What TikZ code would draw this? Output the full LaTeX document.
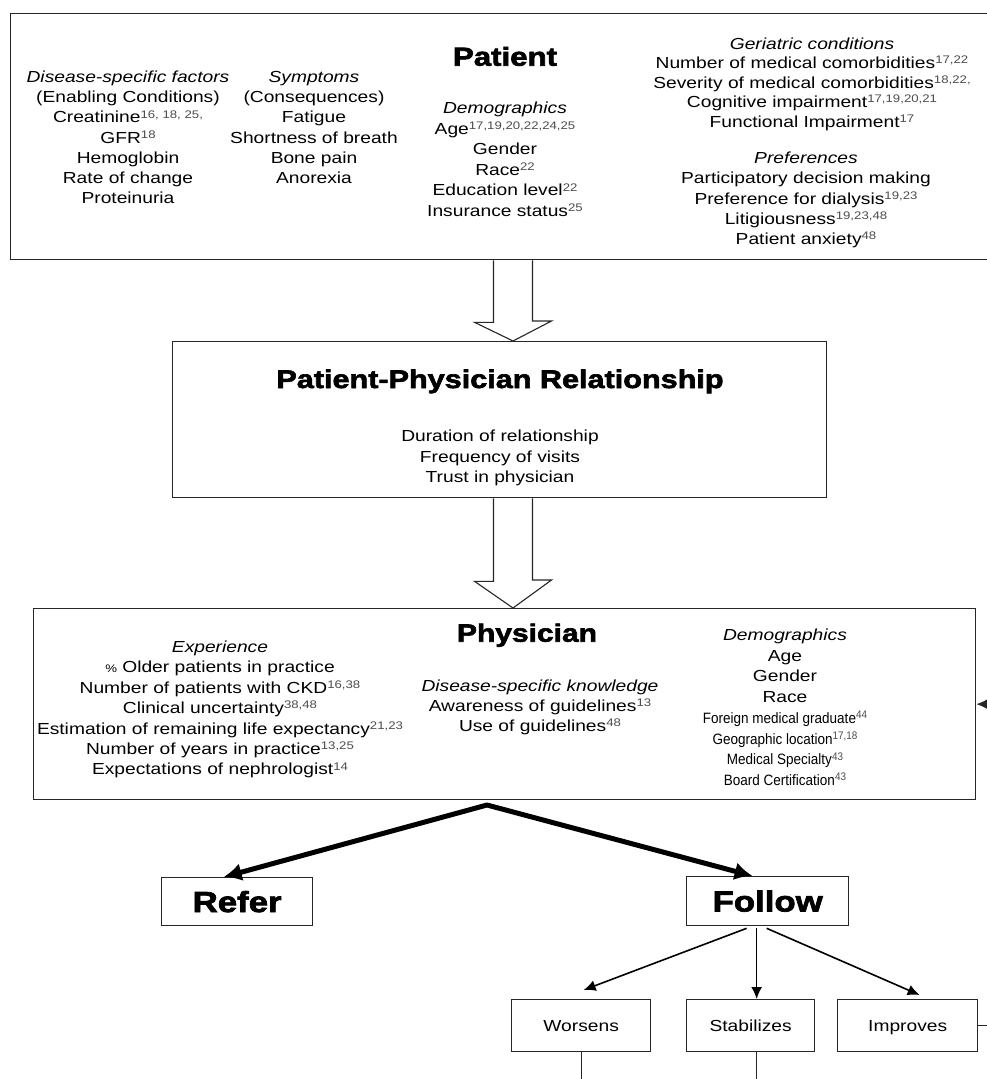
\documentclass[tikz,border=0pt]{standalone}
\usepackage{fontspec}
\setmainfont{Liberation Sans}[FakeStretch=1.2]
\newfontfamily\narrowf{Liberation Sans}[FakeStretch=0.9]
\newfontfamily\heavyf{Liberation Sans Bold}[FakeStretch=1.2,FakeBold=2.5]
\usetikzlibrary{arrows.meta,calc}
\definecolor{supgray}{gray}{0.3}
\newcommand\sps[1]{\raisebox{0.3em}{\fontsize{11}{11}\selectfont\color{supgray}#1}}
\newcommand\bodyfs{\fontsize{16}{20}\selectfont}
\newcommand\nar{\narrowf\fontsize{15}{16}\selectfont}
\newcommand\pct{{\fontsize{11}{11}\selectfont\%}}
\newcommand\tcol[6]{\foreach [count=\i from 0] \t in {#6} {\node[inner sep=0, anchor=base, font=#5] (#1-\i) at (#2, #3+5.5+\i*#4) {\t};}}
\begin{document}
\begin{tikzpicture}[x=1pt,y=-1pt,
  box/.style={draw=black!85, line width=1.3pt, inner sep=0, anchor=north west},
  smallbox/.style={box, font=\bodyfs, text height=11.5pt, text depth=0pt},
  ttl/.style={inner sep=0, anchor=base},
  hollowarr/.style={draw=black!85, line width=1.1pt, line join=miter},
  bigarr/.style={line width=5pt, line join=round, {Latex[length=18pt,width=18pt]}-{Latex[length=18pt,width=18pt]}},
  thinarr/.style={line width=1.6pt, -{Latex[length=12pt,width=11pt]}},
  plain/.style={draw=black!85, line width=1.3pt}]
\useasboundingbox (0,0) rectangle (986,1079);

% boxes
\node[box, minimum width=985pt, minimum height=246pt] (patbox) at (10,13) {};
\node[box, minimum width=654pt, minimum height=156pt] (relbox) at (172,341) {};
\node[box, minimum width=942pt, minimum height=191pt] (physbox) at (33,608) {};
\node[box, minimum width=151pt, minimum height=48pt, font=\heavyf\fontsize{29}{29}\selectfont] (refer) at (161,877) {Refer};
\node[box, minimum width=162pt, minimum height=49pt, font=\heavyf\fontsize{29}{29}\selectfont] (follow) at (686,876) {Follow};
\node[smallbox, minimum width=139pt, minimum height=52pt] (worsens) at (511,999) {Worsens};
\node[smallbox, minimum width=128pt, minimum height=52pt] (stab) at (686,999) {Stabilizes};
\node[smallbox, minimum width=140pt, minimum height=52pt] (improves) at (837,999) {Improves};

% titles
\node[ttl, font=\heavyf\fontsize{26}{26}\selectfont] (pattitle) at (505,65.7) {Patient};
\node[ttl, font=\heavyf\fontsize{25.5}{26}\selectfont] (reltitle) at (500,388) {Patient-Physician Relationship};
\node[ttl, font=\heavyf\fontsize{25}{26}\selectfont] (phystitle) at (527,641.7) {Physician};

% patient box texts
\tcol{dis}{128}{77}{20.2}{\bodyfs}{\textit{Disease-specific factors},(Enabling Conditions),Creatinine\sps{16, 18, 25,},GFR\sps{18},Hemoglobin,Rate of change,Proteinuria}
\tcol{sym}{314}{77}{20.2}{\bodyfs}{\textit{Symptoms},(Consequences),Fatigue,Shortness of breath,Bone pain,Anorexia}
\tcol{dem}{505}{108}{20.6}{\bodyfs}{\textit{Demographics},Age\sps{17,19,20,22,24,25},Gender,Race\sps{22},Education level\sps{22},Insurance status\sps{25}}
\tcol{ger}{812}{43.5}{19.5}{\bodyfs}{\textit{Geriatric conditions},Number of medical comorbidities\sps{17,22},Severity of medical comorbidities\sps{18,22,},Cognitive impairment\sps{17,19,20,21},Functional Impairment\sps{17}}
\tcol{pref}{806}{158}{20.3}{\bodyfs}{\textit{Preferences},Participatory decision making,Preference for dialysis\sps{19,23},Litigiousness\sps{19,23,48},Patient anxiety\sps{48}}

% relationship box texts
\tcol{rel}{500}{436}{20.5}{\bodyfs}{Duration of relationship,Frequency of visits,Trust in physician}

% physician box texts
\tcol{exp}{220}{647}{20.4}{\bodyfs}{\textit{Experience},\pct\ Older patients in practice,Number of patients with CKD\sps{16,38},Clinical uncertainty\sps{38,48},Estimation of remaining life expectancy\sps{21,23},Number of years in practice\sps{13,25},Expectations of nephrologist\sps{14}}
\tcol{dsk}{540}{686}{20}{\bodyfs}{\textit{Disease-specific knowledge},Awareness of guidelines\sps{13},Use of guidelines\sps{48}}
\tcol{pdem}{785}{635}{20.7}{\bodyfs}{\textit{Demographics},Age,Gender,Race,\nar Foreign medical graduate\sps{44},\nar Geographic location\sps{17,18},\nar Medical Specialty\sps{43},\nar Board Certification\sps{43}}

% hollow block arrows
\coordinate (ax) at (513,0);
\draw[hollowarr] ($(ax |- patbox.south)+(-19.5,0)$) -- ++(0,62) -- ++(-19,0) -- (ax |- relbox.north) -- ++(38.5,-20) -- ++(-19,0) -- ($(ax |- patbox.south)+(19.5,0)$);
\draw[hollowarr] ($(ax |- relbox.south)+(-19.5,0)$) -- ++(0,83) -- ++(-19,0) -- (ax |- physbox.north) -- ++(38.5,-28) -- ++(-19,0) -- ($(ax |- relbox.south)+(19.5,0)$);

% thick decision arrows
\coordinate (apex) at (487,805);
\draw[bigarr] ([xshift=-13.5pt]refer.north) -- (apex) -- ([xshift=-15pt]follow.north);

% follow outcomes
\draw[thinarr] ([xshift=-21pt,yshift=-2pt]follow.south) -- ([xshift=2.5pt,yshift=9pt]worsens.north);
\draw[thinarr] ([xshift=-11pt,yshift=-2pt]follow.south) -- ([xshift=6pt]stab.north);
\draw[thinarr] ([xshift=-1pt,yshift=-2pt]follow.south) -- ([xshift=12pt,yshift=4pt]improves.north);

% lines leaving the picture
\draw[plain] (worsens.south) -- ++(0,40);
\draw[plain] ([xshift=6pt]stab.south) -- ++(0,40);
\draw[plain] (improves.east) -- ++(20,0);
\draw[plain, {Latex[length=11pt,width=10pt]}-] (physbox.east) -- ++(20,0);
\end{tikzpicture}
\end{document}
